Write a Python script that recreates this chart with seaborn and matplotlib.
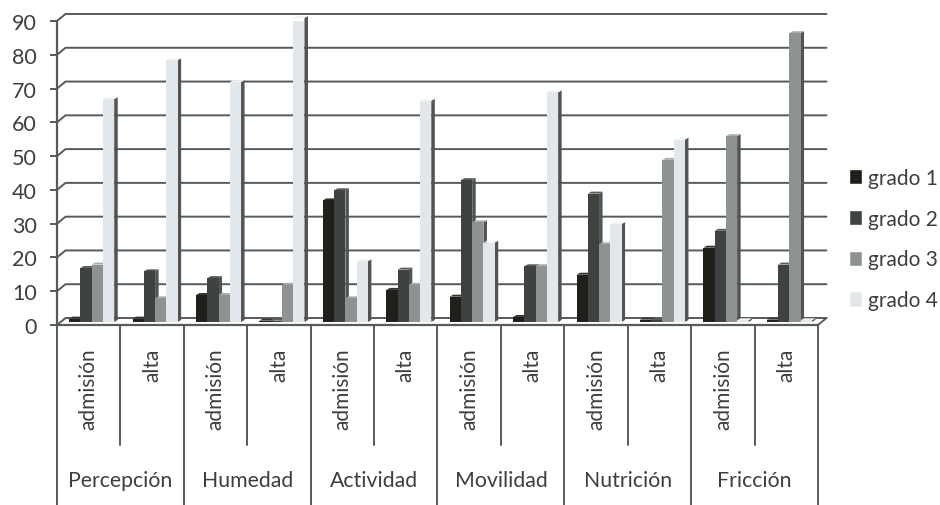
import matplotlib
matplotlib.use("Agg")
import matplotlib.pyplot as plt
from matplotlib.patches import Polygon
import pandas as pd
import seaborn as sns

groups = ["Percepción", "Humedad", "Actividad", "Movilidad", "Nutrición", "Fricción"]
stages = ["admisión", "alta"]
grades = ["grado 1", "grado 2", "grado 3", "grado 4"]

grado_1 = [1, 1, 8, 0.4, 36, 9.5, 7.5, 1.5, 14, 0.7, 22, 0.7]
grado_2 = [16, 15, 13, 0.4, 39, 15.5, 42, 16.5, 38, 0.5, 27, 17]
grado_3 = [17, 7, 8, 11, 7, 11, 29.5, 16.5, 23, 48, 55, 85.5]
grado_4 = [66, 77.5, 71, 90, 18, 65.5, 23.5, 68, 29, 54, 0.5, 0.5]
ticks_y = list(range(0, 100, 10))

colors = ["#1f2119", "#3e4341", "#8e9392", "#e2e7eb"]
line_color = "#555a5a"
text_color = "#3c3f3f"

positions = [f"{g} {s}" for g in groups for s in stages]
frames = []
for grade, values in zip(grades, [grado_1, grado_2, grado_3, grado_4]):
    frames.append(pd.DataFrame({"pos": positions, "grado": grade, "valor": values}))
data = pd.concat(frames, ignore_index=True)

sns.set_theme(style="white")
plt.rcParams["font.family"] = ["Lato", "DejaVu Sans"]

W, H = 940, 506
fig = plt.figure(figsize=(W / 100, H / 100), dpi=100, facecolor="white")
ax = fig.add_axes([57 / W, 1 - 326 / H, (818 - 57) / W, (326 - 22) / H])

sns.barplot(data=data, x="pos", y="valor", hue="grado", order=positions,
            hue_order=grades, palette=colors, width=0.71, gap=0,
            saturation=1, errorbar=None, ax=ax, legend=True)
ax.set_xlim(-0.5, 11.5)
ax.set_ylim(0, 90)

# One pixel expressed in data units, used for the pseudo-3D offsets
px_x = 12 / (818 - 57)
px_y = 90 / (326 - 22)

# Back wall and its connections to the front axis
wall_dx, wall_dy = 8.5 * px_x, 7 * px_y
for v in ticks_y:
    ax.plot([-0.5, -0.5 + wall_dx, 11.5 + wall_dx], [v, v + wall_dy, v + wall_dy],
            color=line_color, lw=1.4, clip_on=False, zorder=1)
ax.plot([11.5, 11.5 + wall_dx], [0, wall_dy], color=line_color, lw=1.4,
        clip_on=False, zorder=1)

# Shift the bars onto the floor and add side and top faces
shift_x, shift_y = 3 * px_x, 3 * px_y
depth_x, depth_y = 3.5 * px_x, 2 * px_y
top_colors = ["#33352e", "#5a5f5d", "#a9adac", "#f2f4f5"]
for i, container in enumerate(ax.containers):
    for bar in container:
        bar.set_x(bar.get_x() + shift_x)
        bar.set_y(bar.get_y() + shift_y)
        bar.set_linewidth(0)
        bar.set_zorder(3.5 + i)
        x0, x1 = bar.get_x(), bar.get_x() + bar.get_width()
        y0, y1 = bar.get_y(), bar.get_y() + bar.get_height()
        ax.add_patch(Polygon([(x1, y0), (x1, y1), (x1 + depth_x, y1 + depth_y),
                              (x1 + depth_x, y0 + depth_y)],
                             facecolor="#505453", edgecolor="none",
                             clip_on=False, zorder=3 + i))
        ax.add_patch(Polygon([(x0, y1), (x1, y1), (x1 + depth_x, y1 + depth_y),
                              (x0 + depth_x, y1 + depth_y)],
                             facecolor=top_colors[i], edgecolor="none",
                             clip_on=False, zorder=3.2 + i))

sns.despine(ax=ax, top=True, right=True)
for side in ["left", "bottom"]:
    ax.spines[side].set_color(line_color)
    ax.spines[side].set_linewidth(1.6)
    ax.spines[side].set_zorder(20)

ax.set_xlabel("")
ax.set_ylabel("")
ax.set_yticks(ticks_y)
ax.tick_params(axis="y", left=True, length=5, width=1.4, color=line_color,
               labelsize=15.5, labelcolor=text_color, pad=9.5)
ax.set_xticks(range(len(positions)))
ax.set_xticklabels(stages * len(groups), rotation=90, fontsize=15, color=text_color)
ax.tick_params(axis="x", bottom=False, pad=10)
for lab in ax.get_xticklabels():
    lab.set_verticalalignment("top")

# Two-level category axis: separators and group names under the bars
trans = ax.get_xaxis_transform()
short_end = -(446 - 326) / (326 - 22)
long_end = -(506 - 326) / (326 - 22)
for k in range(13):
    end = long_end if k % 2 == 0 else short_end
    ax.plot([k - 0.5, k - 0.5], [0, end], transform=trans, color=line_color,
            lw=1.4, clip_on=False, zorder=2)
group_y = -(481 - 326) / (326 - 22)
for j, name in enumerate(groups):
    ax.text(2 * j + 0.5, group_y, name, transform=trans, ha="center", va="center",
            fontsize=15.3, color=text_color)

sns.move_legend(ax, "center left", bbox_to_anchor=(849 / W, 1 - 240 / H),
                bbox_transform=fig.transFigure, title=None, frameon=False,
                fontsize=15, labelspacing=1.0, handlelength=0.6,
                handleheight=0.75, handletextpad=0.3, labelcolor=text_color,
                borderpad=0, borderaxespad=0)

fig.savefig("out.png", dpi=100)
